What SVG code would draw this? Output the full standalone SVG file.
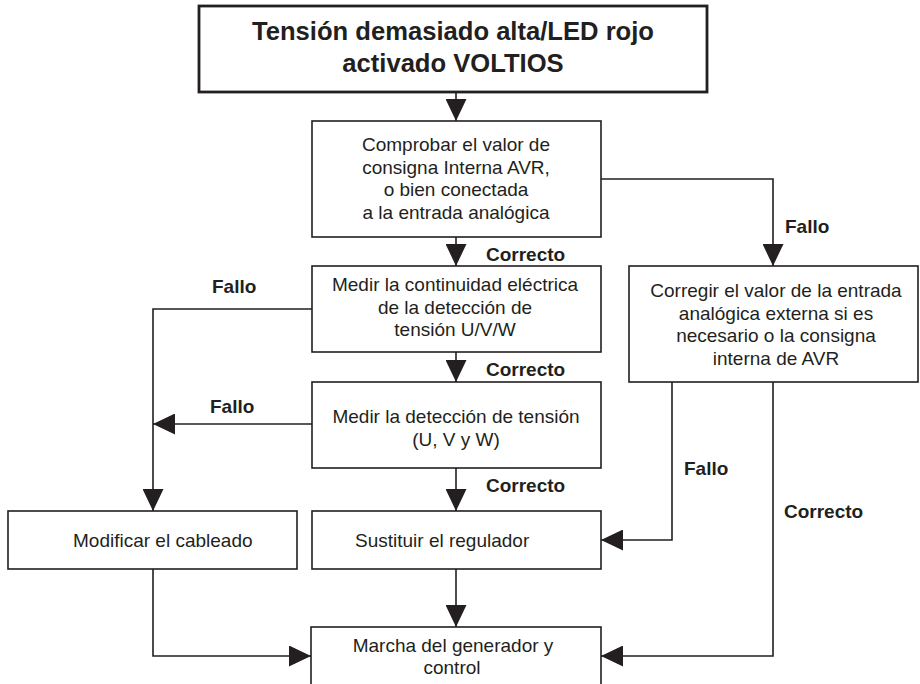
<svg xmlns="http://www.w3.org/2000/svg" width="920" height="684" viewBox="0 0 920 684">
<style>
.bx{fill:#fff;stroke:#231f20;stroke-width:1.6}
.tb{fill:#fff;stroke:#231f20;stroke-width:2.8}
.t{font-family:"Liberation Sans",Arial,sans-serif;font-size:19px;fill:#231f20}
.c{text-anchor:middle}
.b{font-weight:bold}
.ti{font-family:"Liberation Sans",Arial,sans-serif;font-size:25.6px;font-weight:bold;fill:#231f20;text-anchor:middle}
.ln{fill:none;stroke:#231f20;stroke-width:1.6}
</style>
<defs>
<marker id="ah" markerUnits="userSpaceOnUse" markerWidth="22" markerHeight="21" refX="22" refY="10.5" orient="auto" viewBox="0 0 22 21">
<path d="M0,0 L22,10.5 L0,21 z" fill="#231f20"/>
</marker>
</defs>
<rect width="920" height="684" fill="#fff"/>
<g id="connectors">
<path class="ln" d="M456,92 V121" marker-end="url(#ah)"/>
<path class="ln" d="M456,237 V266" marker-end="url(#ah)"/>
<path class="ln" d="M456,352 V382" marker-end="url(#ah)"/>
<path class="ln" d="M456,468 V511" marker-end="url(#ah)"/>
<path class="ln" d="M456,569 V627" marker-end="url(#ah)"/>
<path class="ln" d="M601,179 H773 V266" marker-end="url(#ah)"/>
<path class="ln" d="M312,309 H153 V511" marker-end="url(#ah)"/>
<path class="ln" d="M312,424 H153" marker-end="url(#ah)"/>
<path class="ln" d="M672,382 V540 H601" marker-end="url(#ah)"/>
<path class="ln" d="M773,382 V656 H601" marker-end="url(#ah)"/>
<path class="ln" d="M153,569 V656 H311" marker-end="url(#ah)"/>
<text class="t b" x="486" y="261">Correcto</text>
<text class="t b" x="486" y="376">Correcto</text>
<text class="t b" x="486" y="492">Correcto</text>
<text class="t b" x="785" y="233">Fallo</text>
<text class="t b" x="212" y="293">Fallo</text>
<text class="t b" x="210" y="413">Fallo</text>
<text class="t b" x="684" y="475">Fallo</text>
<text class="t b" x="784" y="518">Correcto</text>
</g>
<g id="n-title">
<rect class="tb" x="199" y="6" width="508" height="86"/>
<text class="ti" x="453" y="40">Tensión demasiado alta/LED rojo</text>
<text class="ti" x="453" y="72">activado VOLTIOS</text>
</g>
<g id="n-comprobar">
<rect class="bx" x="312" y="121" width="289" height="116"/>
<text class="t c" x="456" y="151">Comprobar el valor de</text>
<text class="t c" x="456" y="173.5">consigna Interna AVR,</text>
<text class="t c" x="456" y="196">o bien conectada</text>
<text class="t c" x="456" y="219">a la entrada analógica</text>
</g>
<g id="n-continuidad">
<rect class="bx" x="312" y="266" width="289" height="86"/>
<text class="t c" x="455" y="291">Medir la continuidad eléctrica</text>
<text class="t c" x="455" y="313.5">de la detección de</text>
<text class="t c" x="455" y="336">tensión U/V/W</text>
</g>
<g id="n-deteccion">
<rect class="bx" x="312" y="382" width="289" height="86"/>
<text class="t c" x="456" y="423">Medir la detección de tensión</text>
<text class="t c" x="456" y="446">(U, V y W)</text>
</g>
<g id="n-corregir">
<rect class="bx" x="629" y="266" width="289" height="116"/>
<text class="t c" x="776" y="297">Corregir el valor de la entrada</text>
<text class="t c" x="776" y="319.5">analógica externa si es</text>
<text class="t c" x="776" y="342">necesario o la consigna</text>
<text class="t c" x="776" y="365">interna de AVR</text>
</g>
<g id="n-modificar">
<rect class="bx" x="8" y="511" width="289" height="58"/>
<text class="t" x="73" y="547">Modificar el cableado</text>
</g>
<g id="n-sustituir">
<rect class="bx" x="312" y="511" width="289" height="58"/>
<text class="t" x="355" y="547">Sustituir el regulador</text>
</g>
<g id="n-marcha">
<rect class="bx" x="311" y="627" width="290" height="70"/>
<text class="t c" x="453" y="652">Marcha del generador y</text>
<text class="t c" x="452" y="674">control</text>
</g>
</svg>
